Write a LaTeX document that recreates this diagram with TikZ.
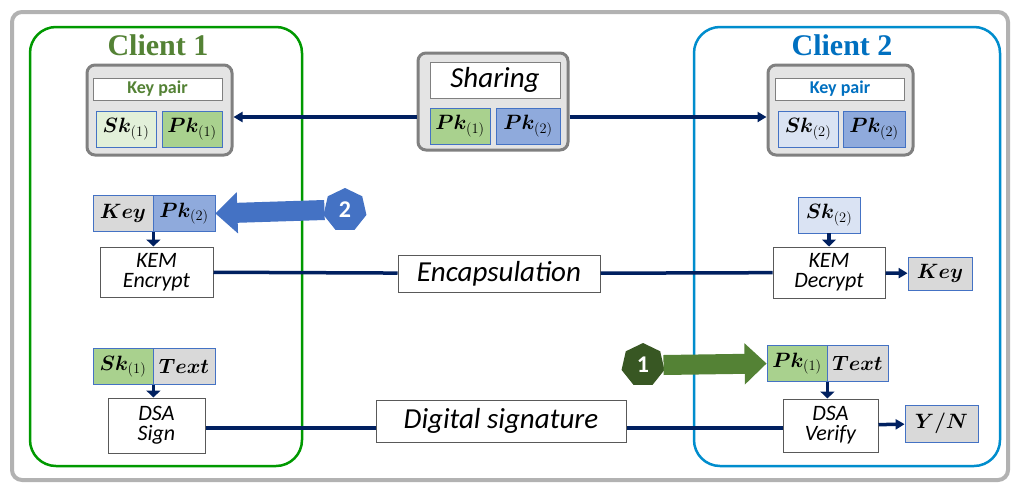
\documentclass[tikz,border=0pt]{standalone}
\usepackage{fontspec}
\usepackage{amsmath}
\usepackage{bm}
\setmainfont{Carlito}
\newfontfamily\titlefont{Liberation Serif}
\usetikzlibrary{shapes.geometric, arrows.meta}
\definecolor{cgreen}{RGB}{84,130,53}
\definecolor{cblue}{RGB}{0,112,192}
\definecolor{navy}{RGB}{0,32,96}
\definecolor{lgreen}{RGB}{169,209,142}
\definecolor{pgreen}{RGB}{226,240,217}
\definecolor{lblue}{RGB}{143,170,220}
\definecolor{pblue}{RGB}{218,227,243}
\definecolor{lgray}{RGB}{217,217,217}
\definecolor{hexblue}{RGB}{68,114,196}
\definecolor{dgreen}{RGB}{56,87,35}
\tikzset{myarrow/.style={-{Triangle[length=9pt, width=10pt]}, navy, line width=3.5pt},
  cell/.style={draw=hexblue, line width=0.8pt, minimum width=60pt, minimum height=36pt, inner sep=0pt, font=\fontsize{22}{22}\selectfont},
  op/.style={draw=gray!70!black, fill=white, line width=1pt, align=center, inner sep=0pt, font=\fontsize{22}{20}\selectfont\itshape},
  label/.style={draw=gray!70!black, fill=white, line width=1pt, inner sep=0pt, font=\fontsize{29}{29}\selectfont\itshape},
  keybox/.style={draw=gray, fill=lgray!70, rounded corners=8pt, line width=3pt},
  title/.style={font=\titlefont\bfseries\fontsize{30}{30}\selectfont},
  hept/.style={regular polygon, regular polygon sides=7, minimum size=44pt, inner sep=0pt, text=white, font=\bfseries\fontsize{24}{24}\selectfont},
  fat/.style={-{Triangle[length=22pt, width=40pt]}, line width=20pt}}
\newcommand{\kk}[2]{$\bm{#1k}_{(#2)}$}
\begin{document}
\begin{tikzpicture}[x=1pt, y=-1pt]
    \useasboundingbox (0,0) rectangle (1019,493);
    \draw [gray!60, line width=4pt, rounded corners=10pt, fill=white] (12,12) rectangle (1008,480);
    % clients
    \draw [green!60!black, line width=2.5pt, rounded corners=26pt] (30,27) rectangle (302,466);
    \draw [cblue!80!cyan, line width=2.5pt, rounded corners=26pt] (694,27) rectangle (1000,466);
    \node [title, text=cgreen] (t1) at (158,45) {Client 1};
    \node [title, text=cblue] (t2) at (842,45) {Client 2};
    % key pairs and sharing
    \node [keybox, minimum width=145pt, minimum height=90pt] (kp1) at (159.5,110) {};
    \node [keybox, minimum width=145pt, minimum height=90pt] (kp2) at (840.5,110) {};
    \node [keybox, minimum width=150pt, minimum height=97pt] (sh) at (493,101.5) {};
    \node [draw=gray, fill=white, minimum width=129pt, minimum height=22pt, inner sep=0pt, font=\bfseries\fontsize{18}{18}\selectfont, text=cgreen] (kpt1) at (157.5,89) {Key pair};
    \node [draw=gray, fill=white, minimum width=129pt, minimum height=22pt, inner sep=0pt, font=\bfseries\fontsize{18}{18}\selectfont, text=cblue] (kpt2) at (840,89) {Key pair};
    \node [draw=gray, fill=white, minimum width=130pt, minimum height=36pt, inner sep=0pt, font=\fontsize{29}{29}\selectfont\itshape] (sht) at (495,80) {Sharing};
    \node [cell, fill=pgreen] (sk1) at (126,129) {\kk{S}{1}};
    \node [cell, fill=lgreen] (pk1) at (192,129) {\kk{P}{1}};
    \node [cell, fill=lgreen] (spk1) at (460,126) {\kk{P}{1}};
    \node [cell, fill=lblue, minimum width=64pt] (spk2) at (528,126) {\kk{P}{2}};
    \node [cell, fill=pblue] (sk2) at (808,129) {\kk{S}{2}};
    \node [cell, fill=lblue, minimum width=62pt] (pk2) at (874,129) {\kk{P}{2}};
    \draw [myarrow] (sh.west |- 0,117) -- (kp1.east |- 0,117);
    \draw [myarrow] (sh.east |- 0,117) -- (kp2.west |- 0,117);
    % KEM
    \node [cell, fill=lgray] (key1) at (123,213.5) {$\bm{Key}$};
    \node [cell, fill=lblue, minimum width=62pt] (kpk2) at (184,213.5) {\kk{P}{2}};
    \node [op, minimum width=113pt, minimum height=50pt] (enc) at (156.5,272) {KEM\\Encrypt};
    \node [hept, fill=hexblue] (h2) at (345,210) {2};
    \draw [fat, hexblue] (h2.west) -- (kpk2.east);
    \draw [myarrow, -{Triangle[length=7pt, width=14pt]}] (key1.south east) -- (enc.north -| key1.south east);
    \node [label, minimum width=202pt, minimum height=37pt] (encap) at (499,273.5) {Encapsulation};
    \node [cell, fill=pblue, minimum width=62pt] (dsk2) at (829,215) {\kk{S}{2}};
    \node [op, minimum width=112pt, minimum height=51pt] (dec) at (829,272.5) {KEM\\Decrypt};
    \node [cell, fill=lgray, minimum width=64pt, minimum height=33pt] (key2) at (940,273.5) {$\bm{Key}$};
    \draw [navy, line width=3.5pt] (enc) -- (encap) -- (dec);
    \draw [myarrow, -{Triangle[length=7pt, width=14pt]}] (dsk2) -- (dec);
    \draw [myarrow] (dec) -- (key2);
    % DSA
    \node [cell, fill=lgreen] (ssk1) at (123,366.5) {\kk{S}{1}};
    \node [cell, fill=lgray, minimum width=62pt] (txt1) at (184,366.5) {$\bm{Text}$};
    \node [op, minimum width=97pt, minimum height=55pt] (sign) at (156.5,425.5) {DSA\\Sign};
    \draw [myarrow, -{Triangle[length=7pt, width=14pt]}] (ssk1.south east) -- (sign.north -| ssk1.south east);
    \node [label, minimum width=250pt, minimum height=42pt] (dsig) at (501,421) {Digital signature};
    \node [cell, fill=lgreen] (vpk1) at (797,363.5) {\kk{P}{1}};
    \node [cell, fill=lgray, minimum width=61pt] (txt2) at (857.5,363.5) {$\bm{Text}$};
    \node [op, minimum width=95pt, minimum height=53pt] (ver) at (830.5,425.5) {DSA\\Verify};
    \node [cell, fill=lgray, minimum width=73pt, minimum height=37pt] (yn) at (941.5,423.5) {$\bm{Y/N}$};
    \node [hept, fill=dgreen] (h1) at (643,365) {1};
    \draw [fat, cgreen] (h1.east) -- (vpk1.west);
    \draw [navy, line width=3.5pt] (sign.east |- 0,428) -- (dsig.west |- 0,428);
    \draw [navy, line width=3.5pt] (dsig.east |- 0,428) -- (ver.west |- 0,428);
    \draw [myarrow, -{Triangle[length=7pt, width=14pt]}] (vpk1.south east) -- (ver.north -| vpk1.south east);
    \draw [myarrow] (ver) -- (yn);
\end{tikzpicture}
\end{document}
